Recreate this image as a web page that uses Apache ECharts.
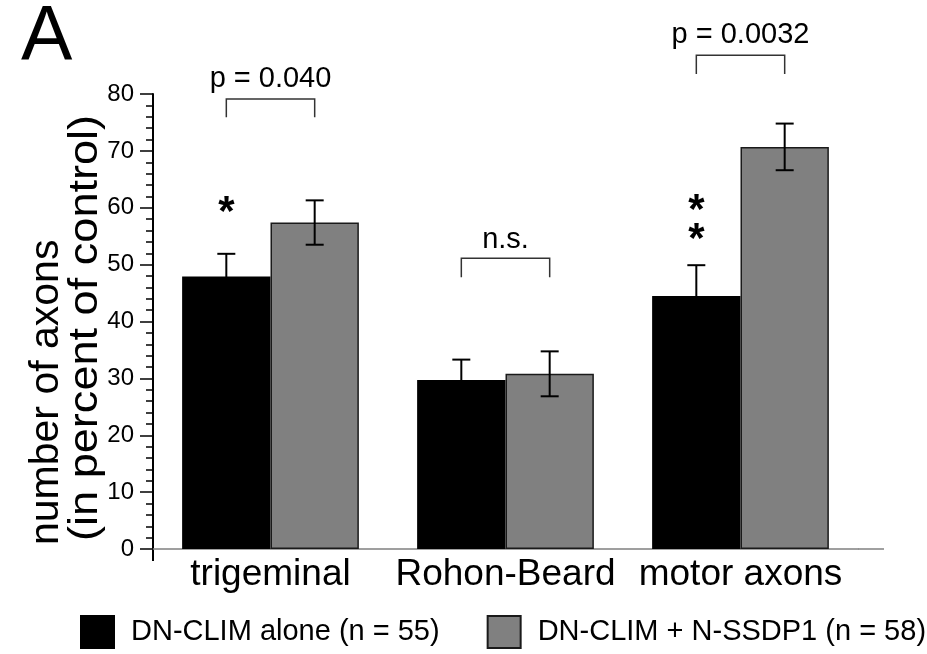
<!DOCTYPE html>
<html><head><meta charset="utf-8">
<script src="https://cdn.jsdelivr.net/npm/echarts@6/dist/echarts.min.js"></script>
<style>html,body{margin:0;padding:0;background:#fff}#c{width:927px;height:654px}</style>
</head><body><div id="c"></div>
<script>
// ---- data ----
const categories = ['trigeminal', 'Rohon-Beard', 'motor axons'];
const seriesNames = ['DN-CLIM alone (n = 55)', 'DN-CLIM + N-SSDP1 (n = 58)'];
const aloneValues = [47.9, 29.7, 44.5];
const aloneErrors = [4.0, 3.6, 5.4];
const ssdpValues = [57.4, 30.8, 70.7];
const ssdpErrors = [3.9, 3.95, 4.1];
const yMin = 0, yMax = 80, yStep = 10;
const bracketLabels = ['p = 0.040', 'n.s.', 'p = 0.0032'];
const bracketTops = [79.1, 51.1, 86.8];
const bracketLegEnds = [75.9, 47.8, 83.5];
const bracketLabelValues = [82.6, 54.3, 90.4];
const starCategories = [0, 2, 2];
const starValues = [60.8, 61.1, 56.1];
const panelLetter = 'A';
const yTitleLines = ['number of axons', '(in percent of control)'];

// ---- style / layout ----
const FONT = '"Liberation Sans", Arial, Helvetica, sans-serif';
const BAR_FRAC = 0.376;
const GRID = { left: 153, right: 69, top: 94, bottom: 105 };

const chart = echarts.init(document.getElementById('c'), null, { renderer: 'canvas' });

function sideX(api, cat, val, side) {
  const c = api.coord([cat, val]);
  const bw = api.size([1, 0])[0] * BAR_FRAC;
  return [c[0] + side * bw / 2, c[1]];
}

const errData = [];
categories.forEach((c, i) => {
  errData.push([i, aloneValues[i], aloneErrors[i], -1]);
  errData.push([i, ssdpValues[i], ssdpErrors[i], 1]);
});
const bracketData = categories.map((c, i) => [i, bracketTops[i], bracketLegEnds[i], bracketLabelValues[i]]);
const starData = starCategories.map((c, i) => [c, starValues[i]]);

const option = {
  animation: false,
  backgroundColor: '#fff',
  textStyle: { fontFamily: FONT },
  grid: GRID,
  legend: {
    left: 80, top: 615, width: 880, padding: 0,
    itemWidth: 33, itemHeight: 32, itemGap: 47,
    icon: 'rect',
    textStyle: { fontSize: 29, color: '#000', fontFamily: FONT, padding: [0, 0, 0, 12] },
    data: seriesNames
  },
  xAxis: {
    type: 'category',
    data: categories,
    axisLine: { show: true, lineStyle: { color: '#808080', width: 1.5 } },
    axisTick: { show: false },
    axisLabel: { interval: 0, fontSize: 37, color: '#000', margin: 7, fontFamily: FONT }
  },
  yAxis: {
    type: 'value',
    min: yMin, max: yMax, interval: yStep,
    splitLine: { show: false },
    axisLine: { show: true, lineStyle: { color: '#000', width: 2 } },
    axisTick: { show: true, length: 13, lineStyle: { color: '#000', width: 1.5 } },
    minorTick: { show: true, splitNumber: 5, length: 7, lineStyle: { color: '#000', width: 1.5 } },
    axisLabel: { fontSize: 24, color: '#000', margin: 19, fontFamily: FONT }
  },
  series: [
    {
      name: seriesNames[0], type: 'bar', data: aloneValues,
      barWidth: (BAR_FRAC * 100) + '%', barGap: '0%',
      itemStyle: { color: '#000', borderColor: '#000', borderWidth: 1.5 }
    },
    {
      name: seriesNames[1], type: 'bar', data: ssdpValues,
      barWidth: (BAR_FRAC * 100) + '%', barGap: '0%',
      itemStyle: { color: '#808080', borderColor: '#1a1a1a', borderWidth: 1.5 }
    },
    {
      type: 'custom', name: 'err', data: errData, z: 5, clip: false,
      encode: { x: 0, y: 1 },
      renderItem: function (params, api) {
        const cat = api.value(0), v = api.value(1), e = api.value(2), side = api.value(3);
        const t = sideX(api, cat, v + e, side);
        const b = sideX(api, cat, v - e, side);
        const cap = 9;
        const ls = { stroke: '#000', lineWidth: 2 };
        return { type: 'group', children: [
          { type: 'line', shape: { x1: t[0], y1: t[1], x2: b[0], y2: b[1] }, style: ls },
          { type: 'line', shape: { x1: t[0] - cap, y1: t[1], x2: t[0] + cap, y2: t[1] }, style: ls },
          { type: 'line', shape: { x1: b[0] - cap, y1: b[1], x2: b[0] + cap, y2: b[1] }, style: ls }
        ]};
      }
    },
    {
      type: 'custom', name: 'brackets', data: bracketData, z: 5, clip: false,
      encode: { x: 0, y: 2 },
      renderItem: function (params, api) {
        const cat = api.value(0), top = api.value(1), leg = api.value(2), lv = api.value(3);
        const lt = sideX(api, cat, top, -1), rt = sideX(api, cat, top, 1);
        const lb = sideX(api, cat, leg, -1), rb = sideX(api, cat, leg, 1);
        const lab = api.coord([cat, lv]);
        return { type: 'group', children: [
          { type: 'polyline', shape: { points: [[lb[0], lb[1]], [lt[0], lt[1]], [rt[0], rt[1]], [rb[0], rb[1]]] },
            style: { stroke: '#333', lineWidth: 1.5, fill: null } },
          { type: 'text', x: lab[0], y: lab[1],
            style: { text: bracketLabels[params.dataIndex], fontSize: 29, fontFamily: FONT, fill: '#000',
                     align: 'center', verticalAlign: 'middle' } }
        ]};
      }
    },
    {
      type: 'custom', name: 'stars', data: starData, z: 5, clip: false,
      encode: { x: 0, y: 1 },
      renderItem: function (params, api) {
        const p = sideX(api, api.value(0), api.value(1), -1);
        return { type: 'text', x: p[0], y: p[1] + 10,
          style: { text: '*', fontSize: 42, fontWeight: 'bold', fontFamily: FONT, fill: '#000', align: 'center', verticalAlign: 'middle' } };
      }
    }
  ]
};
chart.setOption(option);

// extra decorations positioned from the library's scales
const y0 = chart.convertToPixel({ yAxisIndex: 0 }, 0);
const axisX = GRID.left;
chart.setOption({
  graphic: [
    { type: 'text', x: 21, y: 39, style: { text: panelLetter, fontSize: 77, fontFamily: FONT, fill: '#000', align: 'left', verticalAlign: 'middle' } },
    { type: 'line', shape: { x1: axisX, y1: y0, x2: axisX, y2: y0 + 12 }, style: { stroke: '#000', lineWidth: 2 } },
    { type: 'line', shape: { x1: 927 - GRID.right, y1: y0, x2: 884, y2: y0 }, style: { stroke: '#808080', lineWidth: 1.5 } },
    { type: 'text', x: 47, y: 545, rotation: Math.PI / 2,
      style: { text: yTitleLines[0], fontSize: 41, fontFamily: FONT, fill: '#000', align: 'left', verticalAlign: 'middle' } },
    { type: 'text', x: 86, y: 541, rotation: Math.PI / 2, scaleX: 1.1,
      style: { text: yTitleLines[1], fontSize: 41, fontFamily: FONT, fill: '#000', align: 'left', verticalAlign: 'middle' } }
  ]
});
</script>
</body></html>
